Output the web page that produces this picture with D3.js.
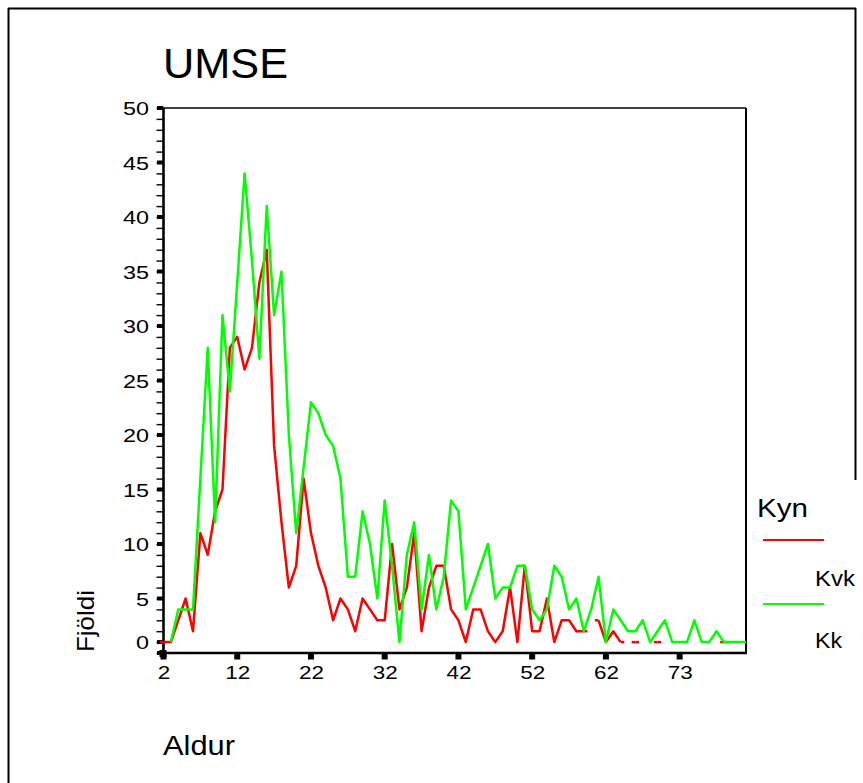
<!DOCTYPE html>
<html><head><meta charset="utf-8">
<script src="https://cdn.jsdelivr.net/npm/d3@7"></script>
<style>
html,body{margin:0;padding:0;background:#fff;}
svg{display:block;}
text{font-family:"Liberation Sans",Arial,Helvetica,sans-serif;fill:#000;}
</style>
</head><body>
<svg id="chart" width="863" height="783"></svg>
<script>
// ---- data ----
const ages = [2,3,4,5,6,7,8,9,10,11,12,13,14,15,16,17,18,19,20,21,22,23,24,25,26,27,28,29,30,31,
  32,33,34,35,36,37,38,39,40,41,42,43,44,45,46,47,48,49,50,51,52,53,54,55,56,57,58,59,60,61,62,
  63,64,65,66,67,68,69,71,72,73,74,75,76,77,78,79,80,81,82];
const kvk = [1,1,3,5,2,11,9,13,15,28,29,26,28,34,37,19,12,6,8,16,
  11,8,6,3,5,4,2,5,4,3,3,10,4,6,11,2,6,8,8,4,
  3,1,4,4,2,1,2,6,1,8,2,2,5,1,3,3,2,2,null,3,
  1,2,1,null,1,null,null,1,null,null,null,null,null,null,null,null,1,null,null,null];
const kk = [null,1,4,4,4,16,28,12,31,24,34,44,36,27,41,31,35,20,11,17,
  23,22,20,19,16,7,7,13,10,5,14,8,1,9,12,4,9,4,7,14,
  13,4,6,8,10,5,6,6,8,8,4,3,4,8,7,4,5,2,4,7,
  1,4,3,2,2,3,1,2,3,1,1,1,3,1,1,2,1,1,1,1];
const xTickAges = [2,12,22,32,42,52,62,73];
const yTickValues = [1,5,10,15,20,25,30,35,40,45,50];
const yTickLabels = ["0","5","10","15","20","25","30","35","40","45","50"];
const seriesNames = ["Kvk","Kk"];
const seriesColors = ["#ff0000","#00ff00"];
const legendTitle = "Kyn";
const chartTitle = "UMSE";
const xTitle = "Aldur";
const yTitle = "Fjöldi";

// ---- layout ----
const svg = d3.select("#chart");
const L = 163.5, R = 746, T = 108, B = 653;
const x = d3.scalePoint().domain(ages).range([L, R]);
const y = d3.scaleLinear().domain([0, 50]).range([B, T]);

// outer frame
svg.append("line").attr("x1",8.5).attr("y1",8).attr("x2",8.5).attr("y2",783).attr("stroke","#000").attr("stroke-width",2);
svg.append("line").attr("x1",8).attr("y1",8.5).attr("x2",856).attr("y2",8.5).attr("stroke","#000").attr("stroke-width",2);
svg.append("line").attr("x1",855.5).attr("y1",8).attr("x2",855.5).attr("y2",480).attr("stroke","#000").attr("stroke-width",2);

function fitText(sel, len){ sel.attr("textLength", len).attr("lengthAdjust","spacingAndGlyphs"); }

// title
fitText(svg.append("text").attr("x",163).attr("y",78).attr("font-size",42).text(chartTitle), 125);
// axis titles
fitText(svg.append("text").attr("x",163).attr("y",755).attr("font-size",28).text(xTitle), 72);
fitText(svg.append("text").attr("transform","translate(94,652) rotate(-90)").attr("font-size",24).text(yTitle), 62);

// plot frame (top/right)
svg.append("line").attr("x1",L).attr("y1",T).attr("x2",R).attr("y2",T).attr("stroke","#000").attr("stroke-width",1.5);
svg.append("line").attr("x1",R).attr("y1",T).attr("x2",R).attr("y2",B).attr("stroke","#000").attr("stroke-width",2);

// y minor ticks
const yMinor = svg.append("g").attr("transform",`translate(${L},0)`)
  .call(d3.axisLeft(y).tickValues(d3.range(0,51)).tickSize(7).tickFormat(""));
yMinor.select(".domain").remove();
yMinor.selectAll(".tick line").attr("stroke","#000").attr("stroke-width",1.4);

// y labels
const yLab = svg.append("g").attr("transform",`translate(${L},0)`)
  .call(d3.axisLeft(y).tickValues(yTickValues).tickSize(0).tickPadding(14.5)
    .tickFormat((d,i) => yTickLabels[i]));
yLab.select(".domain").remove();
yLab.selectAll(".tick text").attr("font-size",18.6).attr("font-family",'"Liberation Sans",Arial,sans-serif')
  .attr("fill","#000").attr("dy","0.36em")
  .each(function(){ const t=d3.select(this); fitText(t, 13*t.text().length); });

// y major bold ticks
svg.append("g").selectAll("rect").data([0].concat(yTickValues)).join("rect")
  .attr("x",L-6.5).attr("y",d=>y(d)-2).attr("width",6.5).attr("height",4).attr("fill","#000");

// x axis
const xAx = svg.append("g").attr("transform",`translate(0,${B})`)
  .call(d3.axisBottom(x).tickValues(xTickAges).tickSize(0).tickPadding(12.5));
xAx.select(".domain").remove();
xAx.selectAll(".tick text").attr("font-size",18.6).attr("font-family",'"Liberation Sans",Arial,sans-serif')
  .attr("fill","#000")
  .each(function(){ const t=d3.select(this); fitText(t, 12.5*t.text().length); });
svg.append("g").selectAll("rect").data(xTickAges).join("rect")
  .attr("x",d=>x(d)-3).attr("y",B).attr("width",6).attr("height",6.5).attr("fill","#000");
svg.append("rect").attr("x",L-4).attr("y",B-3).attr("width",7).attr("height",7).attr("fill","#000");

// axis lines
svg.append("line").attr("x1",L).attr("y1",T).attr("x2",L).attr("y2",B+1).attr("stroke","#000").attr("stroke-width",2.6);
svg.append("line").attr("x1",L-1).attr("y1",B).attr("x2",R+1).attr("y2",B).attr("stroke","#000").attr("stroke-width",2.6);

// series
function drawSeries(vals, color, stubs){
  const pts = ages.map((a,i)=>({a, v: vals[i]}));
  const line = d3.line().defined(d=>d.v!=null).x(d=>x(d.a)).y(d=>y(d.v));
  const g = svg.append("g");
  g.append("path").datum(pts).attr("d",line).attr("fill","none").attr("stroke",color)
    .attr("stroke-width",2.5).attr("stroke-linejoin","round");
  if (stubs){
    const h = x.step()/2;
    pts.forEach((d,i)=>{
      if (d.v==null) return;
      const leftMissing = i===0 || pts[i-1].v==null;
      const rightMissing = i===pts.length-1 || pts[i+1].v==null;
      if (leftMissing) g.append("line").attr("x1",x(d.a)-h).attr("x2",x(d.a)).attr("y1",y(d.v)).attr("y2",y(d.v)).attr("stroke",color).attr("stroke-width",2.5);
      if (rightMissing) g.append("line").attr("x1",x(d.a)).attr("x2",x(d.a)+h).attr("y1",y(d.v)).attr("y2",y(d.v)).attr("stroke",color).attr("stroke-width",2.5);
    });
  }
}
drawSeries(kvk, seriesColors[0], true);
drawSeries(kk, seriesColors[1], false);

// legend
fitText(svg.append("text").attr("x",757).attr("y",516.5).attr("font-size",25.6).text(legendTitle), 51);
const legY = [540, 604], legTextY = [586, 648.3], legLen = [40, 27];
seriesNames.forEach((n,i)=>{
  svg.append("line").attr("x1",763).attr("x2",824).attr("y1",legY[i]).attr("y2",legY[i])
    .attr("stroke",seriesColors[i]).attr("stroke-width",2);
  fitText(svg.append("text").attr("x",815).attr("y",legTextY[i]).attr("font-size",21.6).text(n), legLen[i]);
});
</script>
</body></html>
